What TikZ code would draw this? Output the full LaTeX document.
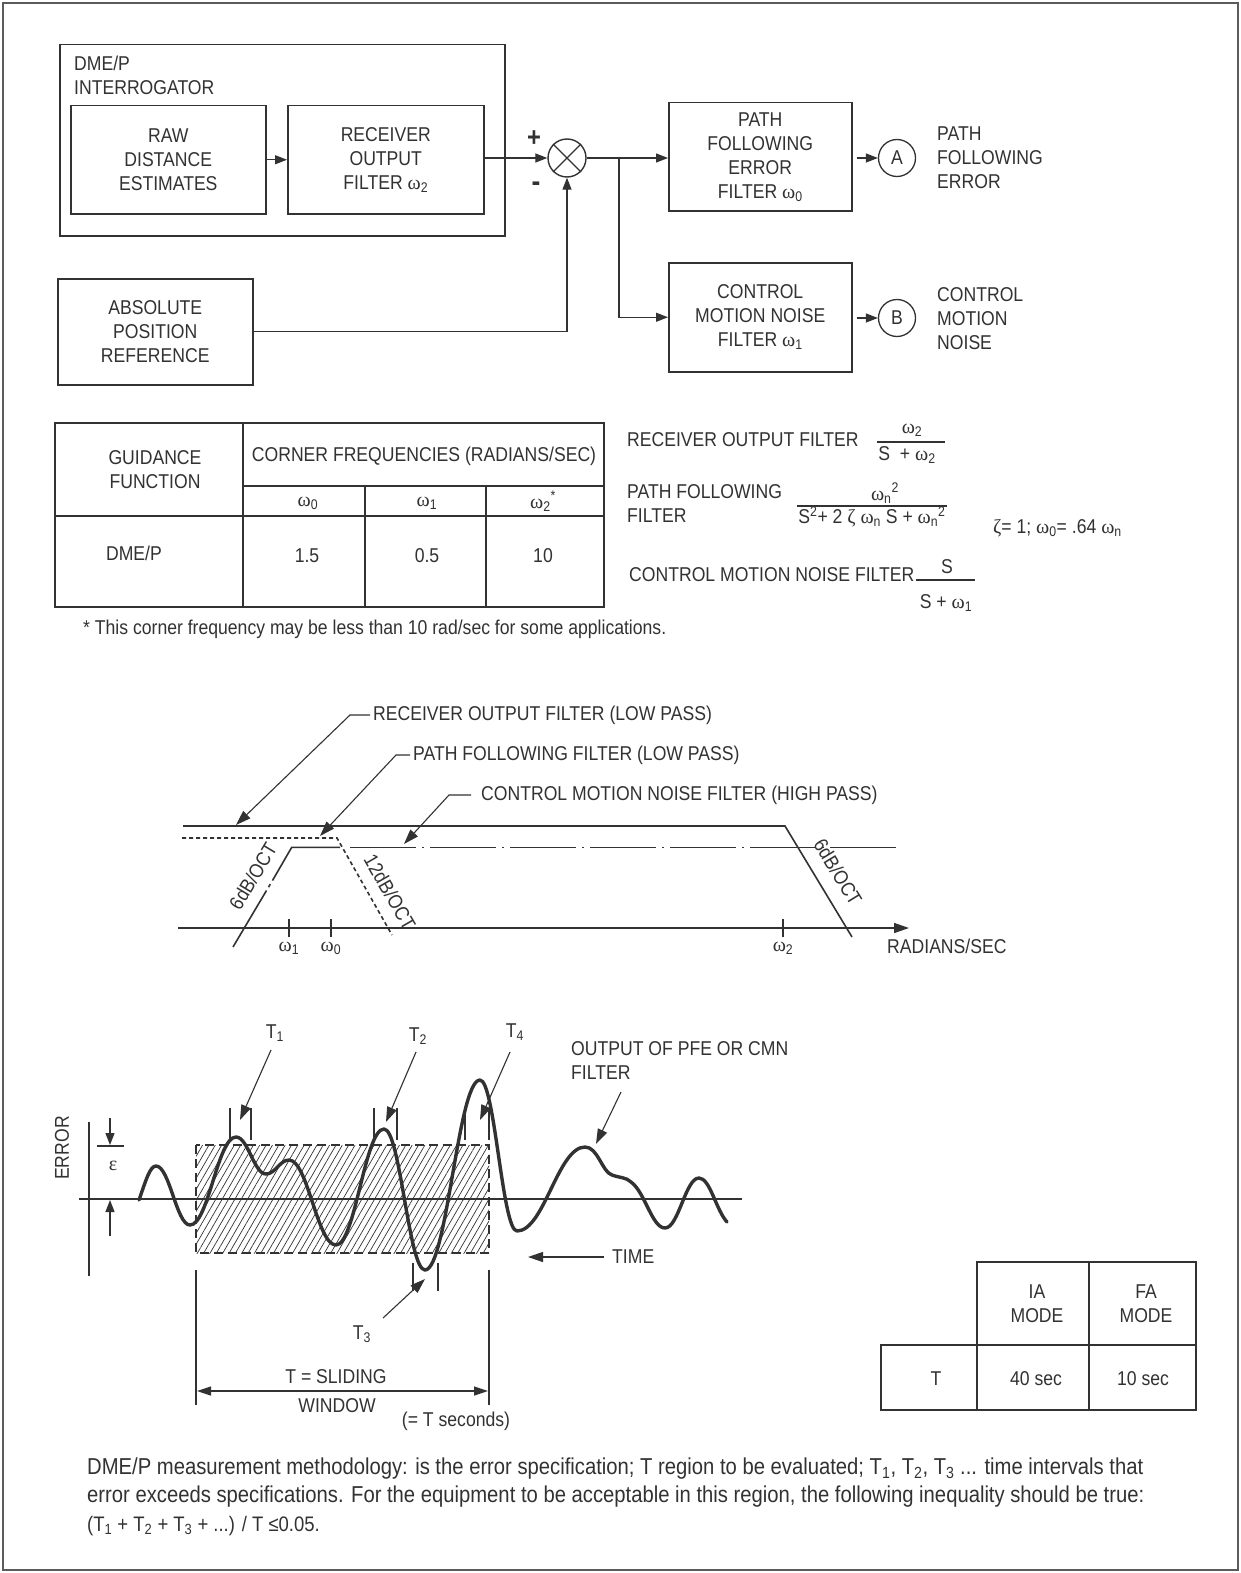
\documentclass[tikz,border=0pt]{standalone}
\usepackage{fontspec}
\setmainfont{Liberation Sans}[FakeStretch=0.88]
\newfontfamily\grk{Liberation Serif}
\usetikzlibrary{arrows.meta,patterns.meta,calc}
\definecolor{ink}{RGB}{50,50,50}
\newcommand\fs{\fontsize{20}{24}\selectfont}
\newcommand\capfs{\fontsize{23}{27}\selectfont}
\newcommand\om[1]{{\grk ω}\textsubscript{#1}}
\begin{document}
\begin{tikzpicture}[x=1pt,y=-1pt,
  every node/.append style={font=\fs, inner sep=0pt, text=ink},
  ln/.style={draw=ink, line width=1.3pt},
  box/.style={draw=ink, line width=1.5pt, align=center},
  tip/.style={-{Triangle[length=12pt,width=9pt]}},
  bigtip/.style={-{Triangle[length=15pt,width=10pt]}},
  rnd/.style={draw=ink, circle, line width=1.3pt, minimum size=37pt},
  wave/.style={draw=ink, line width=3.4pt, line join=round, line cap=round},
  lbl/.style={align=left, anchor=west},
  captext/.style={anchor=west, font=\capfs}]
\useasboundingbox (0,0) rectangle (1241,1573);
\fill[white] (0,0) rectangle (1241,1573);
\draw[draw=ink!80, line width=2pt] (3,3) rectangle (1238,1570);

% ---------------- block diagram ----------------
\node[box, anchor=north west, minimum width=445pt, minimum height=191pt] (intg) at (59,44) {};
\node[lbl] (intgl) at (74,75) {DME/P\\INTERROGATOR};
\node[box, anchor=north west, minimum width=195pt, minimum height=108pt] (raw) at (70,105) {RAW\\DISTANCE\\ESTIMATES};
\node[box, anchor=north west, minimum width=196pt, minimum height=108pt] (rcv) at (287,105) {RECEIVER\\OUTPUT\\FILTER \om{2}};
\node[draw=ink, circle, line width=1.4pt, minimum size=38pt] (sum) at (567,158) {};
\draw[ln] (sum.north east) -- (sum.south west) (sum.north west) -- (sum.south east);
\node[font=\fontsize{27}{27}\selectfont\bfseries] (plus) at (534,139) {+};
\node[font=\fontsize{30}{30}\selectfont\bfseries] (minus) at (536,187) {-};
\node[box, anchor=north west, minimum width=195pt, minimum height=106pt] (abs) at (57,278) {ABSOLUTE\\POSITION\\REFERENCE};
\node[box, anchor=north west, minimum width=183pt, minimum height=108pt] (pfe) at (668,102) {PATH\\FOLLOWING\\ERROR\\FILTER \om{0}};
\node[box, anchor=north west, minimum width=183pt, minimum height=109pt] (cmn) at (668,262) {CONTROL\\MOTION NOISE\\FILTER \om{1}};
\node[rnd] (A) at (897,158) {A};
\node[rnd] (B) at (897,318) {B};
\node[lbl] (Al) at (937,158) {PATH\\FOLLOWING\\ERROR};
\node[lbl] (Bl) at (937,319) {CONTROL\\MOTION\\NOISE};

\draw[ln,tip] (raw) -- (rcv);
\draw[ln,tip] (rcv.east |- sum) -- (sum.west);
\draw[ln,tip] (abs.east) -| (sum.south);
\draw[ln,tip] (sum.east) -- (pfe.west |- sum);
\coordinate (br) at (619,158);
\draw[ln,tip] (br) |- (cmn.west);
\draw[ln,tip] ([xshift=4pt]pfe.east |- A) -- (A.west);
\draw[ln,tip] ([xshift=4pt]cmn.east |- B) -- (B.west);

% ---------------- corner frequency table ----------------
\draw[ln, line width=1.4pt] (55,423) rectangle (604,607);
\draw[ln, line width=1.3pt] (243,423) -- (243,607) (243,486) -- (604,486) (55,516) -- (604,516)
   (365,486) -- (365,607) (486,486) -- (486,607);
\node[align=center] (gf) at (155,470) {GUIDANCE\\FUNCTION};
\node (cf) at (424,456) {CORNER FREQUENCIES (RADIANS/SEC)};
\node (w0) at (308,503) {\om{0}};
\node (w1) at (427,503) {\om{1}};
\node (w2) at (543,501) {\om{2}\textsuperscript{*}};
\node (dme) at (134,553) {DME/P};
\node (v0) at (307,556) {1.5};
\node (v1) at (427,556) {0.5};
\node (v2) at (543,556) {10};
\node[anchor=west] (fn) at (83,629) {* This corner frequency may be less than 10 rad/sec for some applications.};

% ---------------- filter formulas ----------------
\node[anchor=west] (rof) at (627,440) {RECEIVER OUTPUT FILTER};
\node (rofn) at (912,430) {\om{2}};
\draw[ln, line width=1.1pt] (877,442) -- (945,442);
\node (rofd) at (907,455) {S\ \ + \om{2}};
\node[lbl] (pff) at (627,504) {PATH FOLLOWING\\FILTER};
\node (pffn) at (885,493) {\om{n}\textsuperscript{2}};
\draw[ln, line width=1.1pt] (797,506) -- (947,506);
\node (pffd) at (872,517) {S\textsuperscript{2}+ 2 {\grk ζ} \om{n} S + \om{n}\textsuperscript{2}};
\node[anchor=west] (zeta) at (993,528) {{\grk ζ}= 1; \om{0}= .64 \om{n}};
\node[anchor=west] (cmnf) at (629,575) {CONTROL MOTION NOISE FILTER};
\node (cmnn) at (947,567) {S};
\draw[ln, line width=1.1pt] (916,580) -- (975,580);
\node (cmnd) at (946,603) {S + \om{1}};

% ---------------- Bode sketch ----------------
\draw[ln, line width=1.4pt, bigtip] (178,928) -- (909,928);
\foreach \x/\n in {289/1,331/0,783/2}{
  \draw[ln, line width=1.2pt] (\x,919) -- (\x,937);
  \node at (\x,948) {\om{\n}};
}
\node[anchor=west] (rad) at (887,946) {RADIANS/SEC};
\draw[ln, line width=1.6pt] (183,826) -- (785,826) -- (852,937);
\draw[ln, line width=1.6pt, dash pattern=on 4pt off 3pt] (182,838) -- (337,838) -- (392,935);
\draw[ln, line width=1.6pt] (233,947) -- (266.5,890.5);
\draw[ln, line width=1.6pt] (268.5,887.2) -- (270.3,884.1);
\draw[ln, line width=1.6pt] (272.5,880.5) -- (291.7,847.3) -- (340,847.3);
\draw[ln, line width=1.6pt, dash pattern=on 66pt off 6pt on 2pt off 6pt] (350,847.3) -- (901,847.3);
\node[rotate=59] (s1) at (253,876) {6dB/OCT};
\node[rotate=-60] (s2) at (390,892) {12dB/OCT};
\node[rotate=-58.5] (s3) at (838,872) {6dB/OCT};
\node[anchor=west] (l1) at (373,715) {RECEIVER OUTPUT FILTER (LOW PASS)};
\node[anchor=west] (l2) at (413,755) {PATH FOLLOWING FILTER (LOW PASS)};
\node[anchor=west] (l3) at (481,795) {CONTROL MOTION NOISE FILTER (HIGH PASS)};
\coordinate (t1) at (236,825);
\coordinate (t2) at (320,836);
\coordinate (t3) at (404,844);
\draw[ln, line width=1.1pt, bigtip] ([xshift=-3pt]l1.west) -- (350,715) -- (t1);
\draw[ln, line width=1.1pt, bigtip] ([xshift=-3pt]l2.west) -- (396,755) -- (t2);
\draw[ln, line width=1.1pt, bigtip] ([xshift=-10pt]l3.west) -- (449,795) -- (t3);

% ---------------- error plot ----------------
\fill[pattern={Lines[angle=60,distance=5.5pt,line width=0.7pt]}, pattern color=ink] (196,1145) rectangle (489,1253);
\draw[ln, line width=2.2pt, dash pattern=on 9pt off 5pt] (196,1145) rectangle (489,1253);
\draw[ln, line width=1.5pt] (79,1199) -- (742,1199);
\draw[ln, line width=1.3pt] (89,1122) -- (89,1276);
\node[rotate=90] (err) at (62,1148) {ERROR};
\draw[ln, line width=1.3pt, tip] (110,1118) -- (110,1145);
\draw[ln, line width=1.3pt] (97,1146) -- (124,1146);
\draw[ln, line width=1.3pt, tip] (110,1236) -- (110,1200);
\node (eps) at (113,1166) {{\grk ε}};
\draw[ln, line width=1.2pt] (196,1270) -- (196,1405) (489,1270) -- (489,1405);
\draw[ln, line width=1.3pt, {Triangle[length=14pt,width=9pt]}-{Triangle[length=14pt,width=9pt]}] (197,1391) -- (488,1391);
\node (sl) at (336,1377) {T = SLIDING};
\node (wi) at (337,1406) {WINDOW};
\node (ts) at (456,1421) {(= T seconds)};
% tick marks for intervals
\draw[ln, line width=1.2pt] (230,1108) -- (230,1140) (251,1108) -- (251,1140)
  (374,1108) -- (374,1140) (397,1108) -- (397,1140)
  (465,1108) -- (465,1140) (489,1108) -- (489,1140)
  (413,1263) -- (413,1291) (438,1263) -- (438,1291);
\node (T1) at (275,1033) {T\textsubscript{1}};
\node (T2) at (418,1036) {T\textsubscript{2}};
\node (T4) at (515,1032) {T\textsubscript{4}};
\node (T3) at (362,1334) {T\textsubscript{3}};
\draw[ln, line width=1.1pt, bigtip] (271,1050) -- (240,1120);
\draw[ln, line width=1.1pt, bigtip] (416,1052) -- (386,1122);
\draw[ln, line width=1.1pt, bigtip] (510,1052) -- (480,1120);
\draw[ln, line width=1.1pt, bigtip] (383,1318) -- (425,1279);
\node[lbl] (out) at (571,1061) {OUTPUT OF PFE OR CMN\\FILTER};
\draw[ln, line width=1.1pt, bigtip] (621,1092) -- (596,1144);
\node[anchor=west] (time) at (612,1257) {TIME};
\draw[ln, line width=1.3pt, bigtip] (604,1257) -- (528,1257);
\draw[wave] (139,1200) .. controls (146,1180) and (150,1166) .. (156,1166)
  .. controls (169.6,1166) and (176.4,1225) .. (190,1225)
  .. controls (208.4,1225) and (217.6,1137) .. (236,1137)
  .. controls (248,1137) and (254,1174) .. (266,1174)
  .. controls (275.2,1174) and (279.8,1160) .. (289,1160)
  .. controls (307.8,1160) and (317.2,1245) .. (336,1245)
  .. controls (355.2,1245) and (364.8,1129) .. (384,1129)
  .. controls (400.4,1129) and (408.6,1270) .. (425,1270)
  .. controls (447,1270) and (458,1080) .. (480,1080)
  .. controls (494.8,1080) and (502.2,1231) .. (517,1231)
  .. controls (544.2,1231) and (557.8,1147) .. (585,1147)
  .. controls (598,1147) and (602,1172) .. (612,1175)
  .. controls (620,1178) and (626,1177) .. (631,1182)
  .. controls (645,1192) and (652,1228) .. (665,1228)
  .. controls (678.6,1228) and (685.4,1178) .. (699,1178)
  .. controls (710,1178) and (716,1210) .. (727,1222);

% ---------------- mode table ----------------
\draw[ln, line width=1.3pt] (977,1262) rectangle (1196,1410) (881,1345) rectangle (977,1410)
  (977,1345) -- (1196,1345) (1089,1262) -- (1089,1410);
\node[align=center] (ia) at (1037,1304) {IA\\MODE};
\node[align=center] (fa) at (1146,1304) {FA\\MODE};
\node (tt) at (936,1379) {T};
\node (s40) at (1036,1379) {40 sec};
\node (s10) at (1143,1379) {10 sec};

% ---------------- caption ----------------
\node[captext] (c1) at (87,1469) {DME/P measurement methodology: is the error specification; T region to be evaluated; T\textsubscript{1}, T\textsubscript{2}, T\textsubscript{3} ... time intervals that};
\node[captext] (c2) at (87,1497) {error exceeds specifications. For the equipment to be acceptable in this region, the following inequality should be true:};
\node[captext, font=\fontsize{21}{25}\selectfont] (c3) at (87,1526) {(T\textsubscript{1} + T\textsubscript{2} + T\textsubscript{3} + ...) / T ≤0.05.};
\end{tikzpicture}
\end{document}
